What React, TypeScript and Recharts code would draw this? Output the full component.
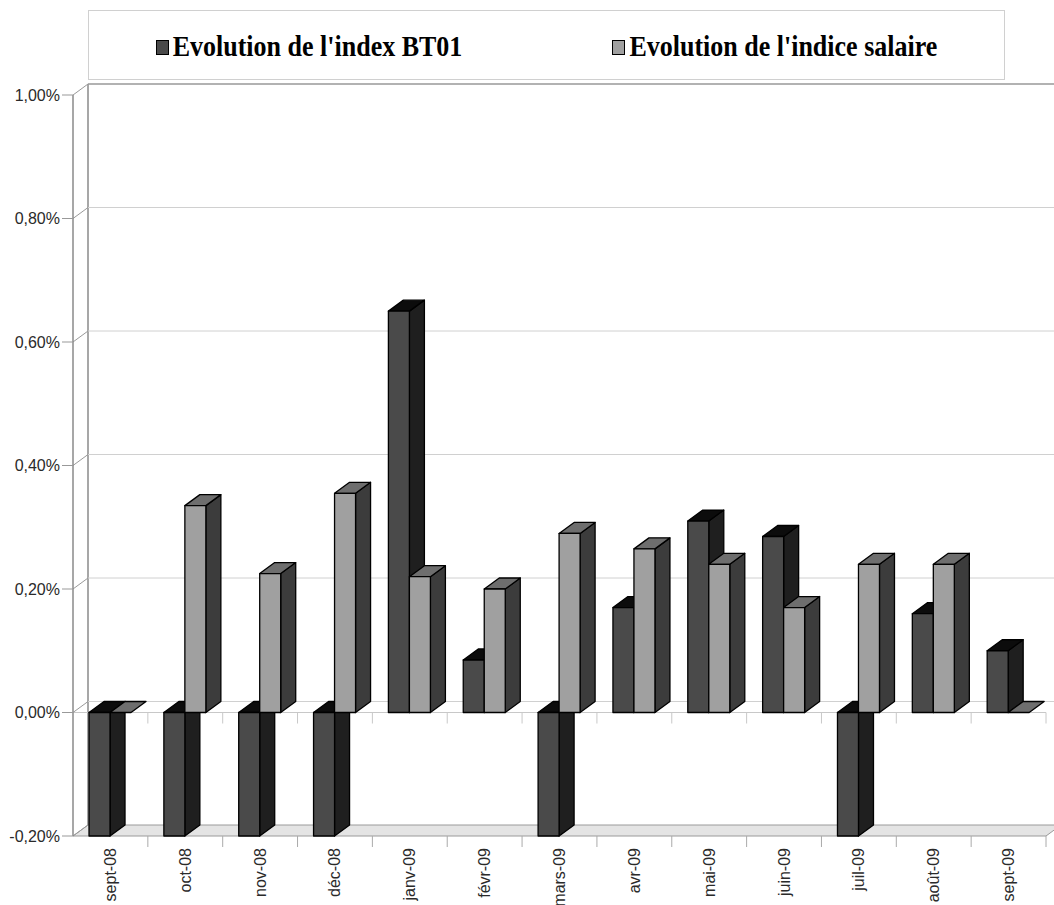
import { BarChart, Bar, XAxis, YAxis, CartesianGrid, Legend } from 'recharts'

const months = ['sept-08', 'oct-08', 'nov-08', 'déc-08', 'janv-09', 'févr-09', 'mars-09', 'avr-09', 'mai-09', 'juin-09', 'juil-09', 'août-09', 'sept-09']
// valeurs en % ; les barres négatives sont coupées à -0,20% dans l'original
const bt01 = [-0.2, -0.2, -0.2, -0.2, 0.65, 0.085, -0.2, 0.17, 0.31, 0.285, -0.2, 0.16, 0.1]
const salaire = [0, 0.335, 0.225, 0.355, 0.22, 0.2, 0.29, 0.265, 0.24, 0.17, 0.24, 0.24, 0]
const yTicks = [-0.2, 0, 0.2, 0.4, 0.6, 0.8, 1]

const data = months.map((m, i) => ({ month: m, bt01: bt01[i], salaire: salaire[i] }))

const DX = 15
const DY = 11
const SANS = '"Liberation Sans", Arial, sans-serif'

const fmtPct = (v: number) => v.toFixed(2).replace('.', ',') + '%'

const bar3D = (front: string, side: string, topc: string) => (props: any) => {
  const { x, y, width, height } = props
  const top = Math.min(y, y + height)
  const h = Math.abs(height)
  const r = x + width
  return (
    <g stroke="#000" strokeWidth={1.3} strokeLinejoin="round">
      {h > 0 && (
        <polygon
          points={`${r},${top} ${r + DX},${top - DY} ${r + DX},${top + h - DY} ${r},${top + h}`}
          fill={side}
        />
      )}
      <polygon points={`${x},${top} ${x + DX},${top - DY} ${r + DX},${top - DY} ${r},${top}`} fill={topc} />
      {h > 0 && <rect x={x} y={top} width={width} height={h} fill={front} />}
    </g>
  )
}

const gridLine = (p: any) => {
  const { x1, y1, x2, index, y, height, width, x } = p
  const isBottom = Math.abs(y1 - (y + height)) < 1
  const isZero = index === 1
  const band = width / months.length
  const ticks = months.map((_, i) => x + (i + 1) * band)
  return (
    <g key={`g-${index}`}>
      {isBottom && (
        <>
          <polygon
            points={`${x1},${y1} ${x1 + DX},${y1 - DY} ${x2 + DX},${y1 - DY} ${x2},${y1}`}
            fill="#e4e4e4"
            stroke="#9a9a9a"
          />
          <line x1={x + DX} y1={y - DY} x2={x + DX} y2={y + height - DY} stroke="#8a8a8a" strokeWidth={1.5} />
          {ticks.map((tx, i) => (
            <line key={i} x1={tx} y1={y1} x2={tx} y2={y1 + 11} stroke="#aaa" />
          ))}
        </>
      )}
      {!isBottom && (
        <line
          x1={x1 + DX}
          y1={y1 - DY}
          x2={x2 + DX}
          y2={y1 - DY}
          stroke={index === yTicks.length - 1 ? '#999' : '#d0d0d0'}
          strokeWidth={index === yTicks.length - 1 ? 1.5 : 1}
        />
      )}
      <line x1={x1} y1={y1} x2={x1 + DX} y2={y1 - DY} stroke="#999" />
      {isZero && (
        <>
          <line x1={x1} y1={y1} x2={x2} y2={y1} stroke="#c8c8c8" />
          {ticks.map((tx, i) => (
            <line key={i} x1={tx} y1={y1} x2={tx} y2={y1 + 11} stroke="#c8c8c8" />
          ))}
        </>
      )}
    </g>
  )
}

const MonthTick = ({ x, y, payload }: any) => (
  <text
    x={x}
    y={y}
    transform={`rotate(-90 ${x} ${y})`}
    textAnchor="end"
    dominantBaseline="central"
    fontSize={16}
    fill="#2a2a2a"
    fontFamily={SANS}
  >
    {payload.value}
  </text>
)

const renderLegend = ({ payload }: any) => (
  <div
    style={{
      boxSizing: 'border-box',
      width: 917,
      height: 70,
      border: '1px solid #d0d0d0',
      background: '#fff',
      display: 'flex',
      justifyContent: 'center',
      alignItems: 'center',
      gap: 150,
      paddingTop: 4,
    }}
  >
    {(payload || []).map((p: any) => (
      <div key={p.value} style={{ display: 'flex', alignItems: 'center' }}>
        <span style={{ display: 'inline-block', width: 11, height: 13, background: p.color, border: '1px solid #000', marginRight: 4 }} />
        <span
          style={{
            display: 'inline-block',
            font: 'bold 26px "Liberation Serif", "Times New Roman", serif',
            color: '#000',
            transform: 'scaleY(1.1)',
          }}
        >
          {p.value}
        </span>
      </div>
    ))}
  </div>
)

export default function App() {
  return (
    <div style={{ position: 'absolute', left: 0, top: 0, width: 1054, height: 905, background: '#fff' }}>
      <BarChart
        width={1054}
        height={905}
        data={data}
        margin={{ top: 95, right: 8, left: 0, bottom: 0 }}
        barCategoryGap="21.4%"
        barGap={0}
      >
        <CartesianGrid vertical={false} horizontal={gridLine} />
        <XAxis
          dataKey="month"
          interval={0}
          height={69}
          axisLine={false}
          tickLine={false}
          tickSize={0}
          tickMargin={12}
          tick={<MonthTick />}
        />
        <YAxis
          width={73}
          domain={[-0.2, 1]}
          ticks={yTicks}
          tickFormatter={fmtPct}
          tickSize={11}
          tickMargin={2}
          axisLine={{ stroke: '#8a8a8a', strokeWidth: 1.5 }}
          tickLine={{ stroke: '#999' }}
          tick={{ fontSize: 16, fill: '#2a2a2a', fontFamily: SANS }}
        />
        <Legend
          layout="horizontal"
          verticalAlign="middle"
          align="center"
          wrapperStyle={{ top: 10, left: 88, width: 917, height: 70 }}
          content={renderLegend}
        />
        <Bar
          dataKey="bt01"
          name="Evolution de l'index BT01"
          fill="#4a4a4a"
          isAnimationActive={false}
          shape={bar3D('#4a4a4a', '#1f1f1f', '#0c0c0c')}
        />
        <Bar
          dataKey="salaire"
          name="Evolution de l'indice salaire"
          fill="#a0a0a0"
          isAnimationActive={false}
          shape={bar3D('#a0a0a0', '#3c3c3c', '#6e6e6e')}
        />
      </BarChart>
    </div>
  )
}
